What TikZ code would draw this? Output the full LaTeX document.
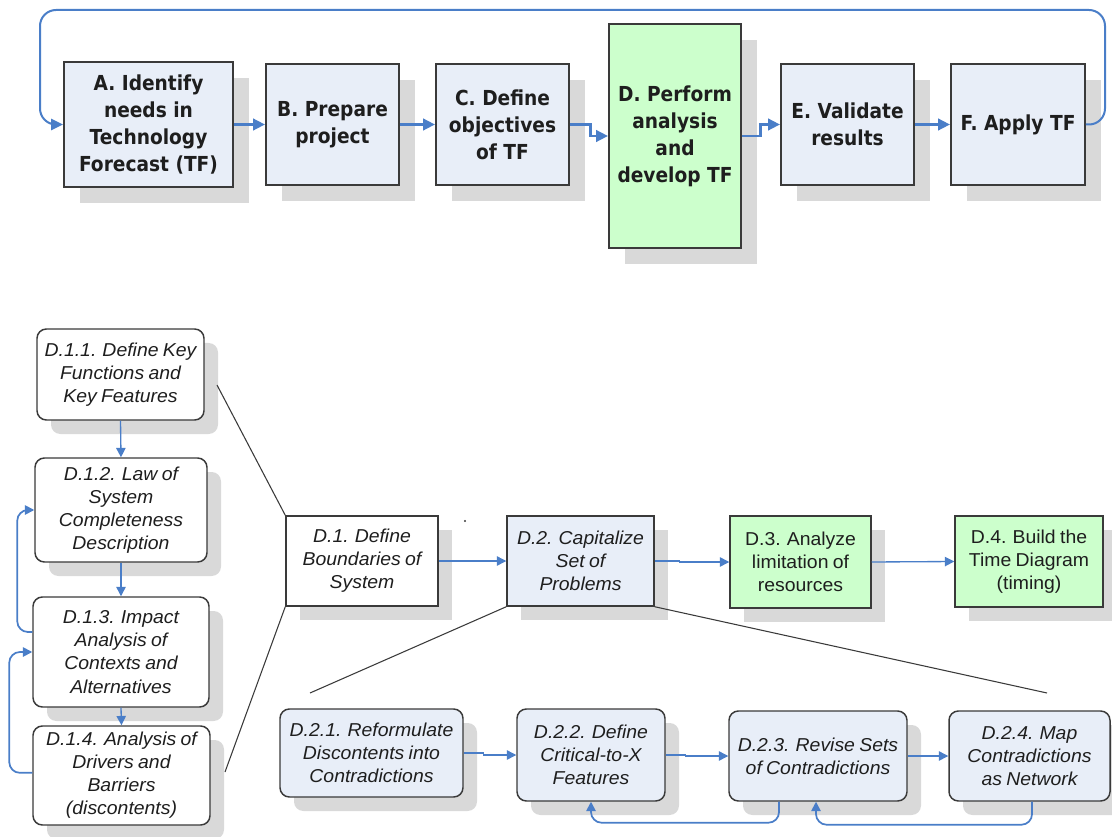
\documentclass[tikz,border=0pt]{standalone}
\usepackage{fontspec}
\setmainfont{Liberation Sans}[FakeStretch=1.04, WordSpace=0.8]
\newfontfamily\headfont{DejaVu Sans}[FakeStretch=0.9]
\usetikzlibrary{arrows.meta,shadows}

\definecolor{boxline}{RGB}{58,58,58}
\definecolor{paleblue}{RGB}{232,238,248}
\definecolor{palegreen}{RGB}{204,255,204}
\definecolor{shade}{RGB}{217,217,217}
\definecolor{flowblue}{RGB}{74,126,200}
\definecolor{txt}{RGB}{30,30,30}

\tikzset{
  topshadow/.style={drop shadow={shadow xshift=12pt, shadow yshift=-12pt, fill=shade, draw=none, opacity=1}},
  lowshadow/.style={drop shadow={shadow xshift=10.5pt, shadow yshift=-10.5pt, fill=shade, draw=none, opacity=1}},
  topbox/.style={draw=boxline, line width=1.4pt, fill=paleblue, text=txt, align=center, inner sep=0pt,
    font=\headfont\bfseries\fontsize{15.5}{20.25}\selectfont, topshadow},
  subbox/.style={draw=boxline, line width=1.1pt, text=txt, align=center, inner sep=0pt,
    font=\fontsize{14}{17.3}\selectfont\itshape, lowshadow},
  roundbox/.style={subbox, rounded corners=7pt},
  flowbig/.style={draw=flowblue, line width=2.2pt, -{Triangle[length=9pt,width=8.5pt]}},
  flowsmall/.style={draw=flowblue, line width=1pt, -{Triangle[length=7pt,width=7pt]}},
  feedback/.style={flowsmall, line width=1.3pt, rounded corners=8pt},
  zoomline/.style={draw=boxline, line width=0.8pt}
}

\begin{document}
\begin{tikzpicture}[x=0.75pt,y=-0.75pt]
\useasboundingbox (0,0) rectangle (1112,837);

% ---------- main process row ----------
\node[topbox, minimum width=126.75pt, minimum height=93.75pt] (A) at (148.5,124.5)
  {A. Identify\\needs in\\Technology\\Forecast (TF)};
\node[topbox, minimum width=99.75pt, minimum height=90.75pt] (B) at (332.5,124.5)
  {B. Prepare\\project};
\node[topbox, minimum width=99.75pt, minimum height=90.75pt] (C) at (502.5,124.5)
  {C. Define\\objectives\\of TF};
\node[topbox, fill=palegreen, minimum width=99pt, minimum height=168pt] (D) at (675,136)
  {D. Perform\\analysis\\and\\develop TF};
\node[topbox, minimum width=99.75pt, minimum height=90.75pt] (E) at (847.5,124.5)
  {E. Validate\\results};
\node[topbox, minimum width=100.5pt, minimum height=90.75pt] (F) at (1018,124.5)
  {F. Apply TF};

\draw[flowbig] (A.east) -- (B.west);
\draw[flowbig] (B.east) -- (C.west);
\draw[flowbig] (C.east) -- ++(21,0) |- (D.west);
\draw[flowbig] (D.east) -- ++(19,0) |- (E.west);
\draw[flowbig] (E.east) -- (F.west);

\coordinate (loopR) at (1105,10);
\coordinate (loopL) at (40,10);
\draw[draw=flowblue, line width=1.5pt, rounded corners=12pt, -{Triangle[length=9pt,width=8.5pt]}]
  (F.east) -| (loopR) -- (loopL) |- (A.west);

% ---------- D.1 sub-steps (left column) ----------
\node[roundbox, fill=white, minimum width=125.25pt, minimum height=68.25pt] (D11) at (120.5,374.5)
  {D.1.1. Define Key\\Functions and\\Key Features};
\node[roundbox, fill=white, minimum width=129pt, minimum height=78pt] (D12) at (121,510)
  {D.1.2. Law of\\System\\Completeness\\Description};
\node[roundbox, fill=white, minimum width=132pt, minimum height=82.5pt] (D13) at (121,652)
  {D.1.3. Impact\\Analysis of\\Contexts and\\Alternatives};
\node[roundbox, fill=white, minimum width=132.75pt, minimum height=74.25pt] (D14) at (121.5,775.5)
  {D.1.4. Analysis of\\Drivers and\\Barriers\\(discontents)};

\draw[flowsmall] (D11.south) -- (D12.north);
\draw[flowsmall] (D12.south) -- (D13.north);
\draw[flowsmall] (D13.south) -- (D14.north);
\draw[feedback] ([yshift=15pt]D13.west) -- ++(-15,0) |- (D12.west);
\draw[feedback] ([yshift=2pt]D14.west) -- ++(-23,0) |- (D13.west);

% ---------- D sub-steps (middle row) ----------
\node[subbox, fill=white, minimum width=114pt, minimum height=67.5pt] (D1) at (362,561)
  {D.1. Define\\Boundaries of\\System};
\node[subbox, fill=paleblue, minimum width=110.25pt, minimum height=67.5pt] (D2) at (580.5,561)
  {D.2. Capitalize\\Set of\\Problems};
\node[subbox, fill=palegreen, font=\fontsize{14}{17.3}\selectfont, minimum width=105.75pt, minimum height=69pt] (D3) at (800.5,562)
  {D.3. Analyze\\limitation of\\resources};
\node[subbox, fill=palegreen, font=\fontsize{14}{17.3}\selectfont, minimum width=111pt, minimum height=68.25pt] (D4) at (1029,561.5)
  {D.4. Build the\\Time Diagram\\(timing)};

\draw[flowsmall] (D1.east) -- (D2.west);
\draw[flowsmall] (D2.east) -- ++(25,0) |- (D3.west);
\draw[flowsmall] (D3.east) -- (D4.west);

\fill[boxline] (465,521) circle (1.2);

% ---------- zoom lines ----------
\coordinate (z1) at (217,385);
\coordinate (z2) at (225,772);
\coordinate (z3) at (310,693);
\coordinate (z4) at (1047,693);
\draw[zoomline] (z1) -- (D1.north west);
\draw[zoomline] (z2) -- (D1.south west);
\draw[zoomline] (z3) -- (D2.south west);
\draw[zoomline] (z4) -- (D2.south east);

% ---------- D.2 sub-steps (bottom row) ----------
\node[roundbox, fill=paleblue, minimum width=137.25pt, minimum height=66pt] (D21) at (371.5,753)
  {D.2.1. Reformulate\\Discontents into\\Contradictions};
\node[roundbox, fill=paleblue, minimum width=111pt, minimum height=69pt] (D22) at (591,755)
  {D.2.2. Define\\Critical-to-X\\Features};
\node[roundbox, fill=paleblue, minimum width=133.5pt, minimum height=67.5pt] (D23) at (818,756)
  {D.2.3. Revise Sets\\of Contradictions};
\node[roundbox, fill=paleblue, minimum width=120.75pt, minimum height=67.5pt] (D24) at (1029.5,756)
  {D.2.4. Map\\Contradictions\\as Network};

\draw[flowsmall] (D21.east) -- ++(20,0) |- (D22.west);
\draw[flowsmall] (D22.east) -- ++(20,0) |- (D23.west);
\draw[flowsmall] (D23.east) -- (D24.west);
\draw[feedback] ([xshift=-29.25pt]D23.south) -- ++(0,21) -| (D22.south);
\draw[feedback] ([xshift=1.9pt]D24.south) -- ++(0,23) -| ([xshift=-1.5pt]D23.south);

\end{tikzpicture}
\end{document}
